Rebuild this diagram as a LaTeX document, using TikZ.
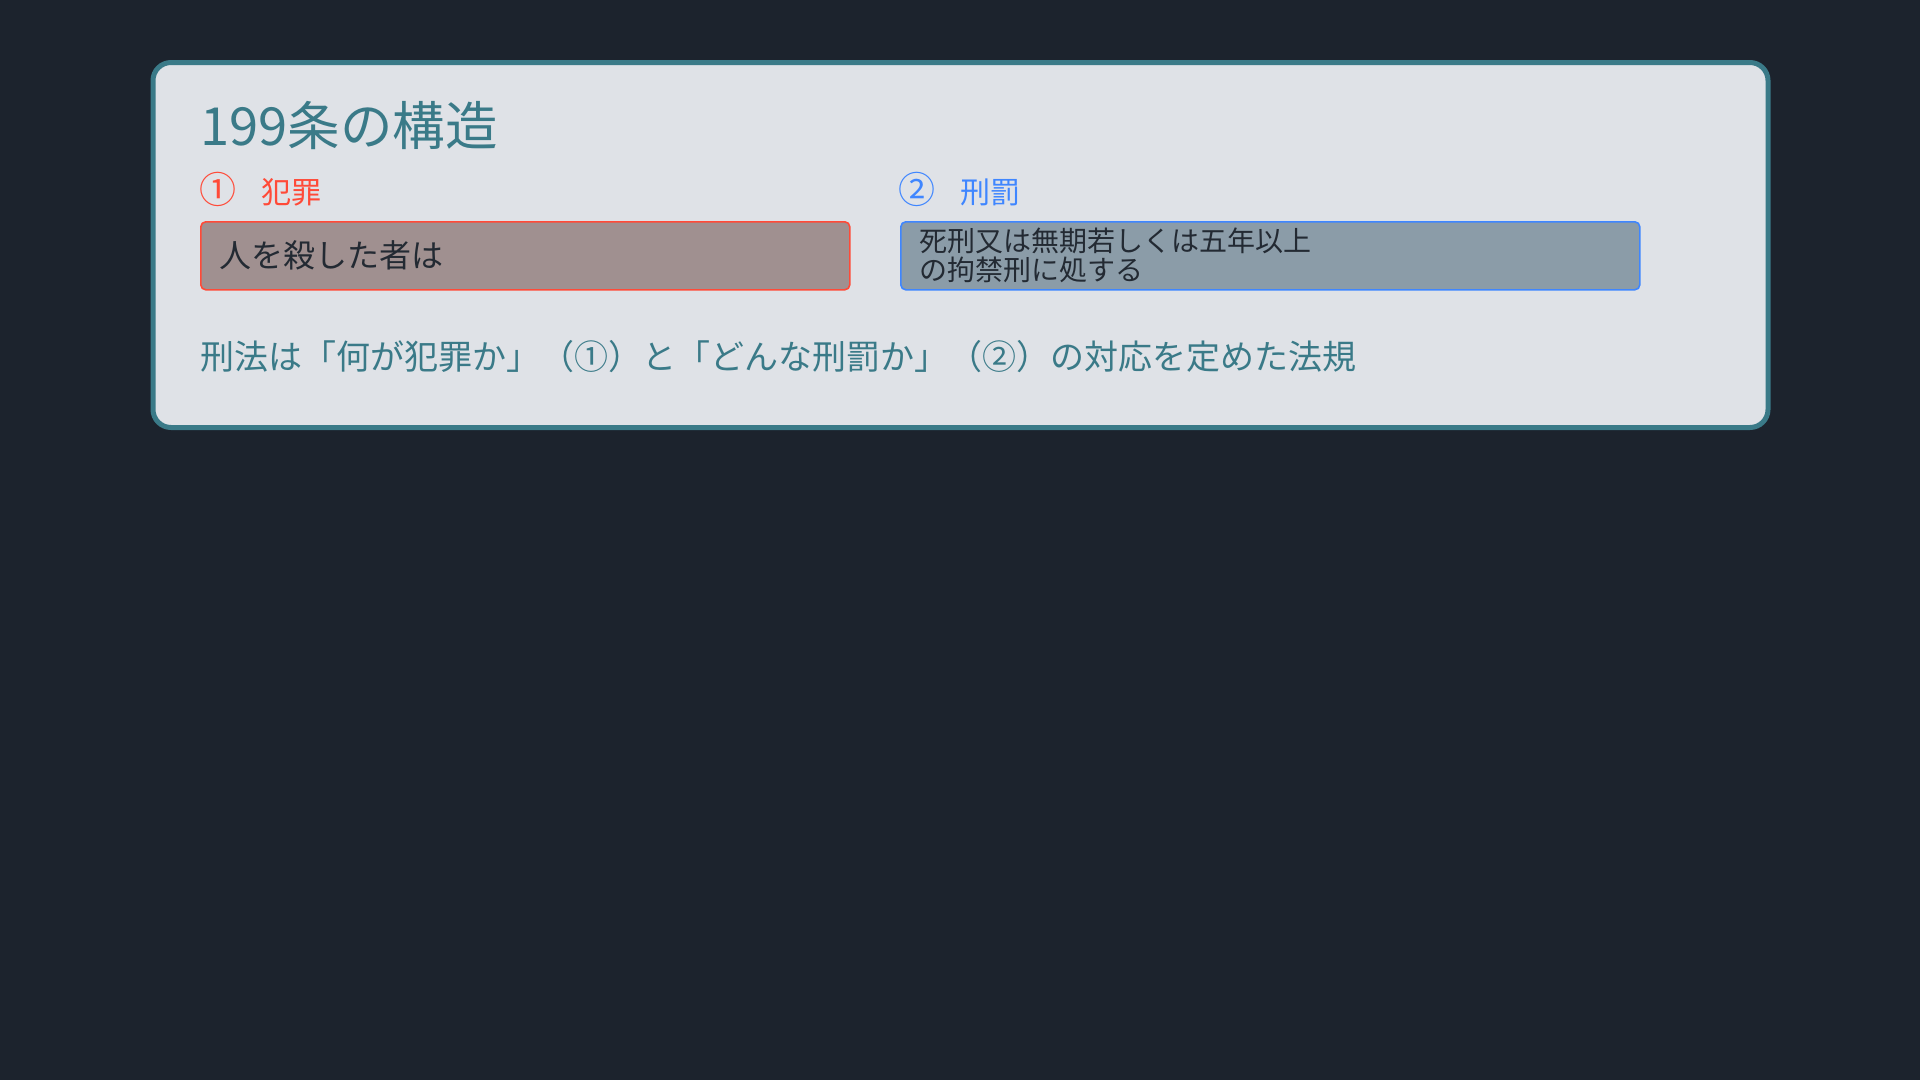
\documentclass[tikz,border=0pt]{standalone}
\usepackage{fontspec}
\setmainfont{Noto Sans CJK JP}
\definecolor{bgc}{HTML}{1C232D}
\definecolor{cardfill}{HTML}{DFE2E7}
\definecolor{teal}{HTML}{3A7A88}
\definecolor{redc}{HTML}{FF4A38}
\definecolor{redfill}{HTML}{A09090}
\definecolor{bluec}{HTML}{3F86FF}
\definecolor{bluefill}{HTML}{8B9CA8}
\definecolor{darktext}{HTML}{232A33}
\tikzset{
  cardbox/.style={draw=teal, line width=5pt, fill=cardfill, rounded corners=18pt},
  itembox/.style={anchor=north west, line width=1.6pt, rounded corners=5pt, minimum height=68pt,
    inner xsep=19pt, inner ysep=0pt, align=left, text=darktext},
  redbox/.style={itembox, draw=redc, fill=redfill},
  bluebox/.style={itembox, draw=bluec, fill=bluefill},
  lbl/.style={anchor=west, inner sep=0pt},
}
\begin{document}
\begin{tikzpicture}[x=1pt,y=-1pt]
\useasboundingbox (0,0) rectangle (1920,1080);
\fill[bgc] (0,0) rectangle (1920,1080);
\draw[cardbox] (153,62.5) rectangle (1768,427.5);
\node[lbl, text=teal, font=\fontsize{52.5}{58}\selectfont] (title) at (200,125) {199条の構造};
\node[lbl, text=redc, font=\fontsize{37}{40}\selectfont] (n1) at (199,189) {①};
\node[lbl, text=redc, font=\fontsize{30}{34}\selectfont] (l1) at (261,192) {犯罪};
\node[lbl, text=bluec, font=\fontsize{37}{40}\selectfont] (n2) at (898,189) {②};
\node[lbl, text=bluec, font=\fontsize{30}{34}\selectfont] (l2) at (960,192) {刑罰};
\node[redbox, text width=611pt, font=\fontsize{32}{36}\selectfont] (crime) at (200,221) {人を殺した者は};
\node[bluebox, text width=701pt, font=\fontsize{28}{29}\selectfont] (punish) at (900,221) {\raisebox{1.5pt}{\parbox{701pt}{死刑又は無期若しくは五年以上\\の拘禁刑に処する}}};
\node[lbl, text=teal, font=\fontsize{34}{38}\selectfont] (summary) at (200,357) {刑法は「何が犯罪か」（①）と「どんな刑罰か」（②）の対応を定めた法規};
\end{tikzpicture}
\end{document}
